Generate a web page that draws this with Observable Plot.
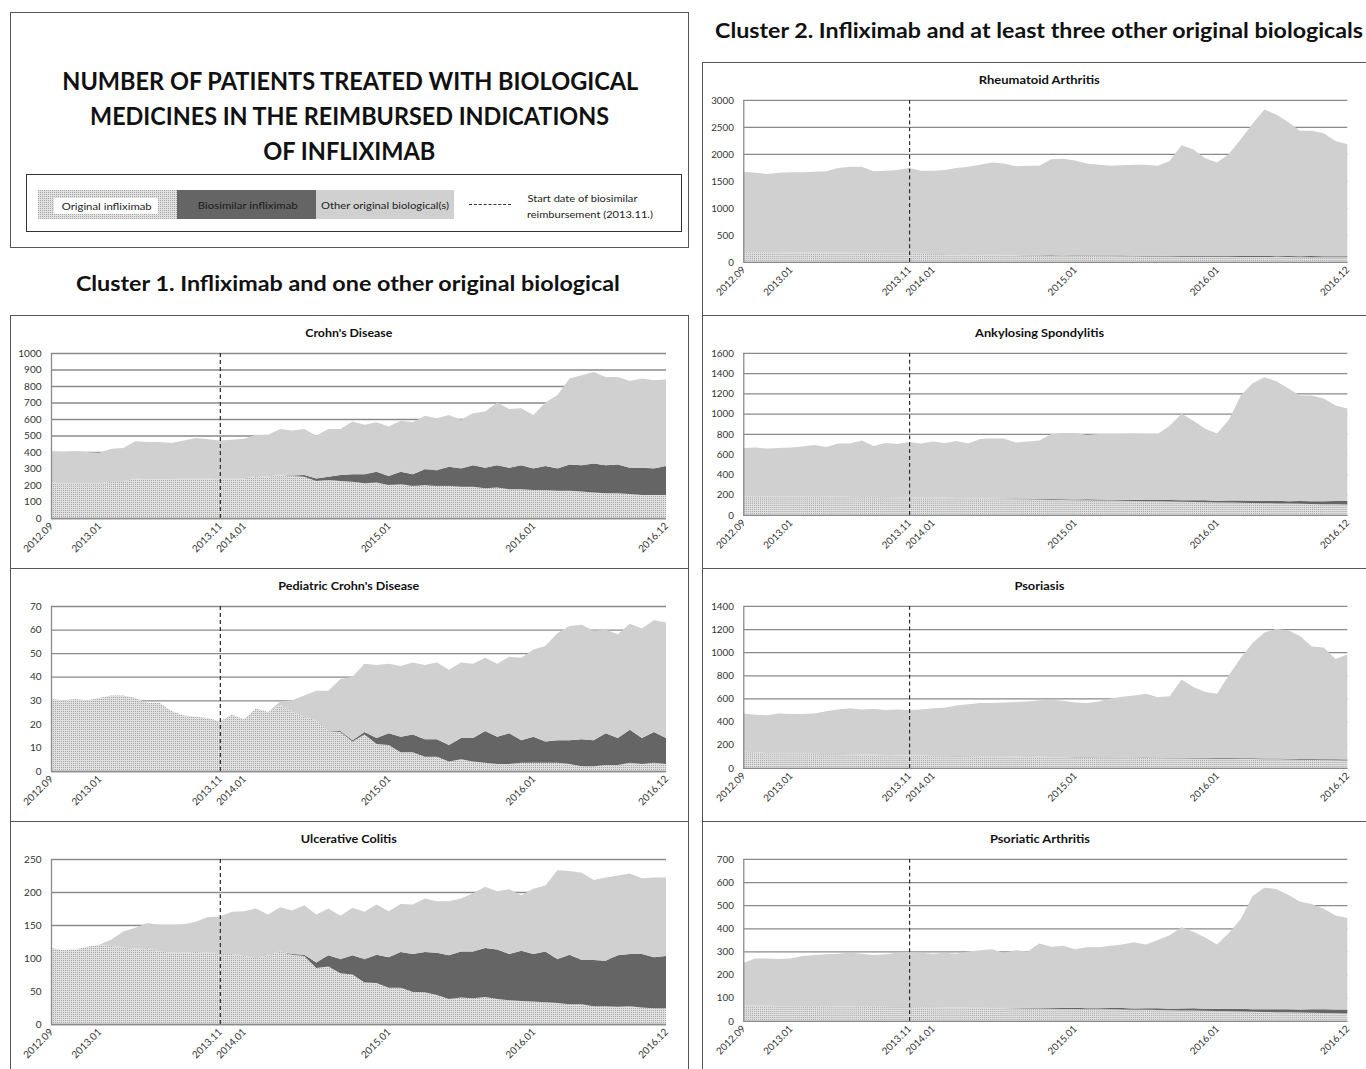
<!DOCTYPE html>
<html>
<head>
<meta charset="utf-8">
<script src="https://cdn.jsdelivr.net/npm/d3@7"></script>
<script src="https://cdn.jsdelivr.net/npm/@observablehq/plot@0.6"></script>
<style>
  html, body { margin: 0; padding: 0; background: #fff; }
  body { width: 1366px; height: 1069px; overflow: hidden; position: relative; font-family: Lato, "Open Sans", sans-serif; }
  .box { position: absolute; box-sizing: border-box; border: 1px solid #4a4a4a; background: #fff; }
  .t { position: absolute; white-space: nowrap; }
</style>
</head>
<body>
<svg width="0" height="0" style="position:absolute">
  <defs>
    <pattern id="stipple" width="2" height="2" patternUnits="userSpaceOnUse">
      <rect width="2" height="2" fill="#e0e0e0"></rect>
      <rect width="1" height="1" fill="#a8a8a8"></rect>
    </pattern>
  </defs>
</svg>
<script>
// ---------- DATA ----------
const seriesNames = ["Original infliximab", "Biosimilar infliximab", "Other original biological(s)"];
const tickLabels = ["2012.09", "2013.01", "2013.11", "2014.01", "2015.01", "2016.01", "2016.12"];
const biosimilarStart = "2013.11";

// Crohn's Disease
const crohnTotal = [405,400,405,400,395,420,425,465,460,460,455,470,485,478,470,475,480,505,505,540,530,540,500,540,540,585,565,580,555,590,580,620,605,625,595,635,645,700,660,665,625,700,745,845,865,885,855,855,830,845,835,840];
const crohnOriginal = [215,210,210,210,210,220,220,240,235,235,235,240,240,240,235,240,240,255,250,265,255,250,225,230,225,220,210,215,200,205,195,200,195,195,190,190,180,185,175,175,170,170,165,165,160,155,150,150,145,140,140,140];
const crohnBiosimilar = [0,0,0,0,0,0,0,0,0,0,0,0,0,0,0,0,0,0,0,0,2,10,15,20,35,45,55,65,55,75,70,95,95,115,110,130,125,135,130,145,130,145,135,160,160,175,170,175,160,165,160,175];

// Pediatric Crohn's Disease
const pedTotal = [30.5,30,30.5,30,31,32,32,31,29,29,25.5,23.5,23,22.5,21,24,22,26.5,25,29.5,30,32,34,34,39,40,45.5,45,45.5,44.5,46,45,46,43,46,45.5,48,45.5,48.5,48,51.5,53,58.5,61.5,62,59.5,60,58,62.5,60.5,64,63];
const pedOriginal = [30.5,30,30.5,30,31,32,32,31,29,29,25.5,23.5,23,22.5,21,24,22,26.5,25,28,25,23,21.5,17,16.5,12.5,15.5,11.5,11,8,8,6,6,4,5,4,3.5,3,3,3.5,3.5,3.5,3.5,3,2,2,2.5,2.5,3.5,3,3.5,3];
const pedBiosimilar = [0,0,0,0,0,0,0,0,0,0,0,0,0,0,0,0,0,0,0,0,0,0,0,0,0.5,0.5,1,2.5,5,6.5,7.5,7.5,7.5,7,9,10,13.5,11.5,13,9.5,11,9,9.5,10,11.5,11,13.5,11.5,14,11,13,11];

// Ulcerative Colitis
const ucTotal = [115,112,113,117,120,128,140,146,153,150,150,151,155,162,163,170,171,175,166,177,172,180,166,175,164,176,170,181,171,182,181,190,186,186,190,198,208,201,204,195,205,210,233,232,229,218,222,225,228,221,222,222];
const ucOriginal = [115,112,113,117,120,118,116,114,115,110,108,108,109,108,106,106,103,100,104,110,105,103,85,87,77,75,63,62,55,55,49,48,44,38,40,39,41,38,36,35,34,33,32,30,30,27,27,26,27,25,24,24];
const ucBiosimilar = [0,0,0,0,0,0,0,0,0,0,0,0,0,0,0,0,0,0,0,0,1,2,8,17,21,29,35,43,46,54,57,61,64,66,70,71,74,75,70,76,72,77,66,75,67,70,69,78,79,81,77,79];

// Rheumatoid Arthritis
const raTotal = [1670,1650,1630,1650,1660,1660,1670,1680,1740,1760,1760,1680,1690,1700,1740,1690,1690,1700,1740,1760,1800,1840,1820,1770,1780,1780,1900,1910,1880,1820,1800,1780,1790,1800,1800,1780,1870,2160,2080,1920,1840,2000,2270,2560,2820,2730,2590,2430,2430,2380,2240,2180];
const raOriginal = [185,180,180,178,175,175,172,170,170,168,165,160,158,155,152,150,148,145,142,140,135,132,130,128,125,122,120,118,115,112,110,108,106,104,102,100,100,98,97,96,95,94,93,92,91,90,90,89,88,88,87,86];
const raBiosimilar = [0,0,0,0,0,0,0,0,0,0,0,0,0,0,0,0,0,0,0,0,2,3,5,4,6,5,7,6,8,9,8,10,11,10,12,13,12,14,13,15,16,15,17,16,18,17,19,18,20,19,20,21];

// Ankylosing Spondylitis
const asTotal = [660,665,655,660,665,675,690,670,705,705,735,680,710,700,720,705,725,710,730,705,750,755,755,715,725,735,800,810,810,790,800,800,800,805,800,800,880,1000,930,850,805,940,1180,1300,1360,1320,1250,1180,1180,1150,1080,1050];
const asOriginal = [185,185,183,182,185,183,180,182,185,180,178,180,178,175,172,170,170,172,168,165,165,163,160,158,155,152,150,148,146,145,143,142,140,138,136,134,132,130,128,126,124,122,120,118,116,114,112,110,108,106,105,104];
const asBiosimilar = [0,0,0,0,0,0,0,0,0,0,0,0,0,0,0,0,0,0,0,0,0,0,3,4,6,5,7,8,7,9,10,9,11,12,11,14,15,14,17,18,17,20,22,21,24,25,24,27,28,30,32,34];

// Psoriasis
const psoTotal = [470,460,455,470,465,465,470,490,505,515,505,510,500,505,500,505,515,520,540,550,560,560,565,570,575,585,590,580,565,560,575,600,615,625,640,610,620,765,700,655,640,800,950,1080,1170,1200,1190,1140,1050,1040,940,980];
const psoOriginal = [140,135,130,128,125,125,122,120,120,118,115,115,112,110,108,107,106,105,104,103,102,100,100,98,97,96,95,94,92,92,90,90,88,87,86,85,84,83,82,81,80,79,78,77,75,74,72,71,70,68,66,65];
const psoBiosimilar = [0,0,0,0,0,0,0,0,0,0,0,0,0,0,0,0,0,0,0,0,0,0,0,0,1,1,2,2,2,3,3,3,3,4,4,4,5,5,5,5,6,6,6,6,7,7,7,7,8,8,8,8];

// Psoriatic Arthritis
const psaTotal = [250,270,270,268,270,280,285,288,290,295,290,285,288,295,298,295,290,295,290,300,305,310,295,305,300,335,320,325,310,318,318,325,330,340,330,350,370,405,385,360,330,380,440,540,575,570,545,515,505,485,455,445];
const psaOriginal = [68,66,66,65,65,64,64,63,63,62,62,61,61,60,60,59,59,58,58,57,57,56,56,55,54,54,53,52,52,51,50,50,49,48,48,47,46,45,45,44,43,42,41,40,39,38,37,36,35,34,33,32];
const psaBiosimilar = [0,0,0,0,0,0,0,0,0,0,0,0,0,0,0,0,0,0,0,0,0,0,1,2,3,2,3,4,5,4,5,6,7,6,7,8,7,9,10,9,10,11,12,10,12,13,14,13,15,16,16,17];

// ---------- month categories ----------
const months = [];
for (let y = 2012; y <= 2016; y++) for (let m = 1; m <= 12; m++) {
  if (y === 2012 && m < 9) continue;
  months.push(`${y}.${String(m).padStart(2, "0")}`);
}

// ---------- helpers ----------
function addText(text, cx, cy, size, weight, width, color) {
  const el = document.createElement("div");
  el.className = "t";
  el.textContent = text;
  el.style.fontSize = size + "px";
  el.style.lineHeight = size + "px";
  el.style.fontWeight = weight;
  el.style.color = color || "#111";
  document.body.appendChild(el);
  const w = el.getBoundingClientRect().width;
  const k = width ? width / w : 1;
  el.style.left = (cx - w / 2) + "px";
  el.style.top = (cy - size / 2) + "px";
  el.style.transformOrigin = "50% 50%";
  el.style.transform = `scaleX(${k})`;
  return el;
}
function addBox(left, top, width, height, extra) {
  const d = document.createElement("div");
  d.className = "box";
  Object.assign(d.style, {left: left + "px", top: top + "px", width: width + "px", height: height + "px"}, extra || {});
  document.body.appendChild(d);
  return d;
}

// ---------- header box ----------
addBox(10, 12, 679, 236, {borderColor: "#555"});
addText("NUMBER OF PATIENTS TREATED WITH BIOLOGICAL", 350, 80, 25, 700, 576);
addText("MEDICINES IN THE REIMBURSED INDICATIONS", 350, 115, 25, 700, 519);
addText("OF INFLIXIMAB", 349, 150, 25, 700, 172);

// legend
addBox(26, 174, 656, 58, {borderColor: "#333"});
addBox(38, 190, 139, 29, {border: "none", background: "radial-gradient(circle at 0.5px 0.5px, #a8a8a8 0.5px, #e0e0e0 0.6px) 0 0 / 2px 2px"});
addBox(54, 198, 104, 16, {border: "none", background: "#fff"});
addText(seriesNames[0], 107, 206, 10, 400, 90, "#222");
addBox(177, 190, 139, 29, {border: "none", background: "#656565"});
addText(seriesNames[1], 248, 205, 10, 400, 100, "#1a1a1a");
addBox(316, 190, 138, 29, {border: "none", background: "#d0d0d0"});
addText(seriesNames[2], 385, 205, 10, 400, 128, "#222");
addBox(469, 204, 42, 1, {border: "none", borderTop: "1px dashed #333", height: "0px"});
addText("Start date of biosimilar", 582, 198, 10, 400, 110, "#222");
addText(`reimbursement (${biosimilarStart}.)`, 590, 214, 10, 400, 126, "#222");

// cluster headings
addText("Cluster 1. Infliximab and one other original biological", 348, 282, 21, 700, 544);
addText("Cluster 2. Infliximab and at least three other original biologicals", 1039, 29, 21, 700, 648);

// ---------- panels ----------
const panels = [
  {title: "Crohn's Disease", tw: 87, left: 10, top: 315, w: 679, mL: 40, total: crohnTotal, orig: crohnOriginal, bio: crohnBiosimilar, yMax: 1000, yStep: 100},
  {title: "Pediatric Crohn's Disease", tw: 141, left: 10, top: 568, w: 679, mL: 40, total: pedTotal, orig: pedOriginal, bio: pedBiosimilar, yMax: 70, yStep: 10},
  {title: "Ulcerative Colitis", tw: 96, left: 10, top: 821, w: 679, mL: 40, total: ucTotal, orig: ucOriginal, bio: ucBiosimilar, yMax: 250, yStep: 50},
  {title: "Rheumatoid Arthritis", tw: 121, left: 702, top: 62, w: 677, mL: 41, total: raTotal, orig: raOriginal, bio: raBiosimilar, yMax: 3000, yStep: 500},
  {title: "Ankylosing Spondylitis", tw: 129, left: 702, top: 315, w: 677, mL: 41, total: asTotal, orig: asOriginal, bio: asBiosimilar, yMax: 1600, yStep: 200},
  {title: "Psoriasis", tw: 50, left: 702, top: 568, w: 677, mL: 41, total: psoTotal, orig: psoOriginal, bio: psoBiosimilar, yMax: 1400, yStep: 200},
  {title: "Psoriatic Arthritis", tw: 100, left: 702, top: 821, w: 677, mL: 41, total: psaTotal, orig: psaOriginal, bio: psaBiosimilar, yMax: 700, yStep: 100}
];

const xTicks = tickLabels.map(l => months.indexOf(l));
const startIdx = months.indexOf(biosimilarStart);

for (const p of panels) {
  addBox(p.left, p.top, p.w, 254, {borderColor: "#555"});
  addText(p.title, p.left + p.w / 2 - 1, p.top + 17, 11, 700, p.tw, "#111");

  const rows = [];
  months.forEach((m, i) => rows.push({i, series: seriesNames[0], value: p.orig[i]}));
  months.forEach((m, i) => rows.push({i, series: seriesNames[1], value: p.bio[i]}));
  months.forEach((m, i) => rows.push({i, series: seriesNames[2], value: p.total[i] - p.orig[i] - p.bio[i]}));

  const yTicks = d3.range(0, p.yMax + p.yStep / 2, p.yStep);
  const svgW = p.w - 2;

  const chart = Plot.plot({
    width: svgW,
    height: 222,
    marginTop: 7,
    marginBottom: 50,
    marginLeft: p.mL,
    marginRight: svgW - p.mL - 615,
    style: {fontFamily: "Lato, sans-serif", fontSize: "10px", color: "#333", background: "transparent", overflow: "visible"},
    x: {domain: [0, months.length - 1]},
    y: {domain: [0, p.yMax]},
    color: {domain: seriesNames, range: ["url(#stipple)", "#656565", "#d0d0d0"]},
    marks: [
      Plot.ruleY(yTicks, {stroke: "#8a8a8a", strokeWidth: 1.3}),
      Plot.areaY(rows, {x: "i", y: "value", z: "series", fill: "series", curve: "linear"}),
      Plot.ruleX([startIdx], {y1: 0, y2: p.yMax, stroke: "#2a2a2a", strokeWidth: 1.2, strokeDasharray: "4,3"}),
      Plot.ruleX([0], {stroke: "#8a8a8a", strokeWidth: 1.3}),
      Plot.ruleY([0], {stroke: "#8a8a8a", strokeWidth: 1.3}),
      Plot.axisY({ticks: yTicks, tickSize: 0, tickPadding: 10, tickFormat: d => String(d), fontSize: 10, label: null}),
      Plot.axisX({ticks: xTicks, tickSize: 0, tickPadding: 6, tickRotate: -45, tickFormat: i => months[i], fontSize: 10, label: null})
    ]
  });
  const holder = document.createElement("div");
  Object.assign(holder.style, {position: "absolute", left: (p.left + 1) + "px", top: (p.top + 31) + "px"});
  holder.appendChild(chart);
  document.body.appendChild(holder);
}
</script>
</body>
</html>
